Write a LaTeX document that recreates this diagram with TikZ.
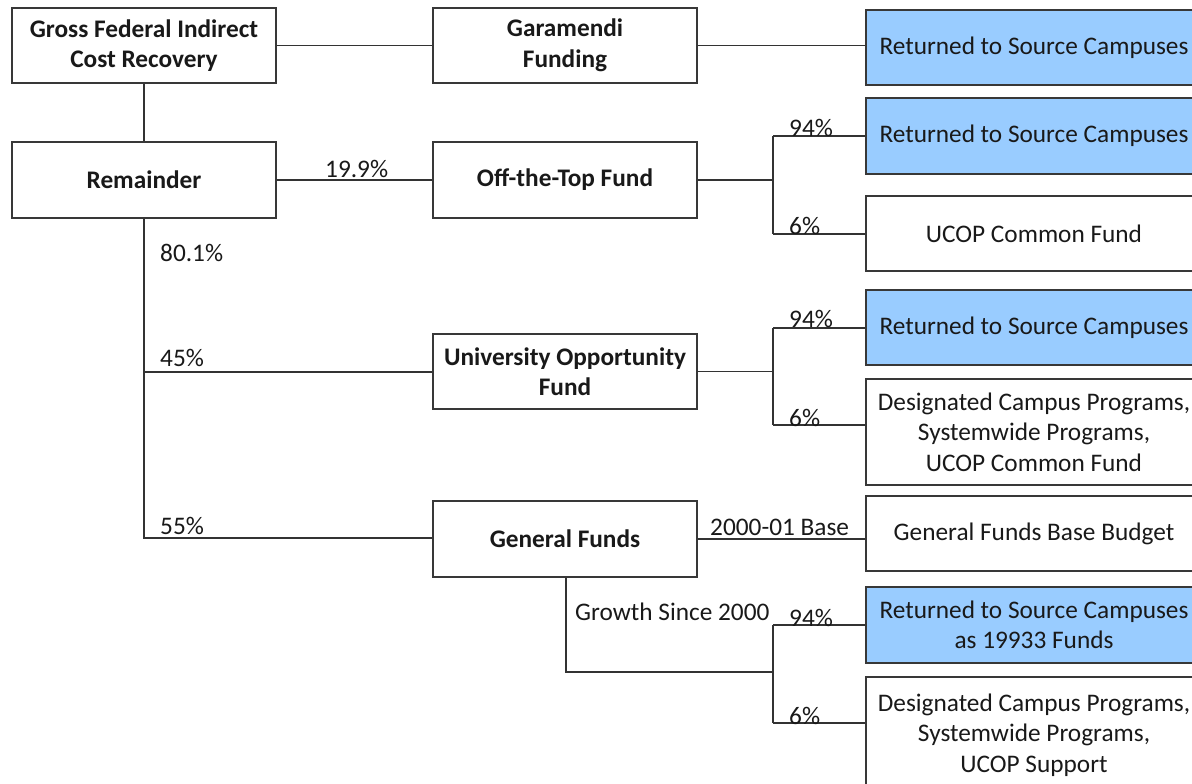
\documentclass[tikz,border=0pt]{standalone}
\usepackage{fontspec}
\setmainfont{Carlito}
\definecolor{retblue}{RGB}{153,204,255}
\begin{document}
\begin{tikzpicture}[x=1pt,y=-1pt,
  box/.style={draw=black!78,line width=1.8pt,fill=white,align=center,inner sep=0pt,
    text=black!90,font=\fontsize{25.3}{30.5}\selectfont},
  lbox/.style={box,font=\fontsize{25.3}{30.5}\selectfont\bfseries,minimum width=264pt,minimum height=75pt},
  rbox/.style={box,minimum width=336pt},
  blue/.style={fill=retblue},
  conn/.style={draw=black!80,line width=1.4pt},
  lab/.style={anchor=base west,inner sep=0pt,text=black!90,font=\fontsize{25.3}{30}\selectfont}]
\useasboundingbox (0,0) rectangle (1192,784);
\clip (0,0) rectangle (1192,784);
\fill[white] (0,0) rectangle (1192,784);
% left / middle boxes
\node[lbox] (gross) at (144,45.5) {Gross Federal Indirect\\Cost Recovery};
\node[lbox,minimum height=76pt] (rem) at (144,180) {Remainder};
\node[lbox] (gar) at (565,45.5) {Garamendi\\Funding};
\node[lbox,minimum height=76pt] (ott) at (565,180) {Off-the-Top Fund};
\node[lbox] (uof) at (565,371.5) {University Opportunity\\Fund};
\node[lbox,minimum height=76pt] (gf) at (565,539) {General Funds};
% right boxes
\node[rbox,blue,minimum height=75pt] (r1) at (1034,47.5) {Returned to Source Campuses};
\node[rbox,blue,minimum height=76pt] (r2) at (1034,136) {Returned to Source Campuses};
\node[rbox,minimum height=75pt] (r3) at (1034,233.5) {UCOP Common Fund};
\node[rbox,blue,minimum height=75pt] (r4) at (1034,327.5) {Returned to Source Campuses};
\node[rbox,minimum height=106pt] (r5) at (1034,432) {Designated Campus Programs,\\Systemwide Programs,\\UCOP Common Fund};
\node[rbox,minimum height=75pt] (r6) at (1034,533.5) {General Funds Base Budget};
\node[rbox,blue,minimum height=76pt] (r7) at (1034,625) {Returned to Source Campuses\\as 19933 Funds};
\node[rbox,minimum height=116pt] (r8) at (1034,735) {Designated Campus Programs,\\Systemwide Programs,\\UCOP Support};
% junction coordinates
\coordinate (jo) at (773,180);
\coordinate (jo1) at (773,136);
\coordinate (jo2) at (773,234);
\coordinate (jr1) at (144,372);
\coordinate (jr2) at (144,538);
\coordinate (ju) at (773,372);
\coordinate (ju1) at (773,328);
\coordinate (ju2) at (773,425);
\coordinate (jg) at (566,672);
\coordinate (jg0) at (773,672);
\coordinate (jg1) at (773,625);
\coordinate (jg2) at (773,723);
% connectors
\draw[conn] (gross.east) -- (gar.west);
\draw[conn] (gar.east) -- (gar.east -| r1.west);
\draw[conn] (gross.south) -- (rem.north);
\draw[conn] (rem.east) -- (ott.west);
\draw[conn] (ott.east) -- (jo);
\draw[conn] (jo1) -- (jo2);
\draw[conn] (jo1) -- (jo1 -| r2.west);
\draw[conn] (jo2) -- (jo2 -| r3.west);
\draw[conn] (rem.south) -- (jr2) -- (jr2 -| gf.west);
\draw[conn] (jr1) -- (jr1 -| uof.west);
\draw[conn] (uof.east) -- (uof.east -| ju);
\draw[conn] (ju1) -- (ju2);
\draw[conn] (ju1) -- (ju1 -| r4.west);
\draw[conn] (ju2) -- (ju2 -| r5.west);
\draw[conn] (gf.east) -- (gf.east -| r6.west);
\draw[conn] (gf.south -| jg) -- (jg) -- (jg0);
\draw[conn] (jg1) -- (jg2);
\draw[conn] (jg1) -- (jg1 -| r7.west);
\draw[conn] (jg2) -- (jg2 -| r8.west);
% labels
\node[lab] (l199) at (325,177) {19.9\%};
\node[lab] (l801) at (160,261) {80.1\%};
\node[lab] (l45) at (160,366) {45\%};
\node[lab] (l55) at (160,534) {55\%};
\node[lab] (lo94) at (789,136) {94\%};
\node[lab] (lo6) at (789,234) {6\%};
\node[lab] (lu94) at (789,327) {94\%};
\node[lab] (lu6) at (789,426) {6\%};
\node[lab] (lbase) at (710,535) {2000-01 Base};
\node[lab] (lgrow) at (575,620) {Growth Since 2000};
\node[lab] (lg94) at (789,626) {94\%};
\node[lab] (lg6) at (789,724) {6\%};
\end{tikzpicture}
\end{document}
